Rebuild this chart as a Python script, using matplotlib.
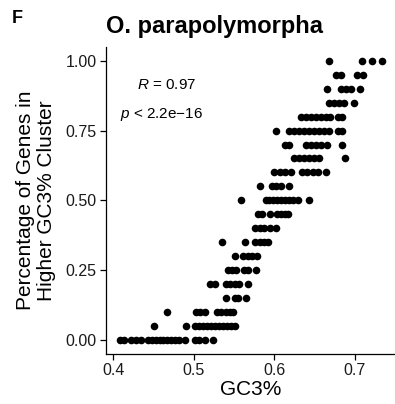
import matplotlib.pyplot as plt
import numpy as np

plt.rcParams['font.family'] = ['Liberation Sans', 'DejaVu Sans']
plt.rcParams['mathtext.fontset'] = 'custom'
plt.rcParams['mathtext.rm'] = 'Liberation Sans'
plt.rcParams['mathtext.it'] = 'Liberation Sans:italic'

# GC3% values of each point, grouped by the y level (share of genes in higher GC3% cluster)
levels = [0.00, 0.05, 0.10, 0.15, 0.20, 0.25, 0.30, 0.35, 0.40, 0.45, 0.50,
          0.55, 0.60, 0.65, 0.70, 0.75, 0.80, 0.85, 0.90, 0.95, 1.00]
gc3_by_level = [
    [0.408, 0.413, 0.422, 0.428, 0.434, 0.443, 0.448, 0.453, 0.458, 0.462,
     0.467, 0.472, 0.477, 0.482, 0.489, 0.502, 0.507, 0.514, 0.524],
    [0.451, 0.491, 0.502, 0.507, 0.512, 0.517, 0.521, 0.526, 0.531, 0.536,
     0.541, 0.546, 0.551],
    [0.467, 0.503, 0.508, 0.514, 0.529, 0.534, 0.540, 0.545, 0.549],
    [0.540, 0.551, 0.555, 0.565],
    [0.520, 0.526, 0.540, 0.545, 0.551, 0.557, 0.568],
    [0.543, 0.548, 0.553, 0.563, 0.568, 0.578],
    [0.551, 0.561, 0.567, 0.573, 0.579],
    [0.535, 0.564, 0.576, 0.582, 0.588, 0.593],
    [0.576, 0.582, 0.588, 0.595, 0.603],
    [0.580, 0.585, 0.595, 0.604, 0.609, 0.613, 0.617],
    [0.559, 0.590, 0.594, 0.599, 0.604, 0.609, 0.614, 0.619, 0.624, 0.630, 0.643],
    [0.583, 0.597, 0.603, 0.609, 0.619],
    [0.600, 0.607, 0.613, 0.621, 0.635, 0.641, 0.648, 0.654, 0.664],
    [0.625, 0.631, 0.637, 0.644, 0.650, 0.656, 0.688],
    [0.613, 0.619, 0.640, 0.646, 0.652, 0.658, 0.666, 0.684],
    [0.602, 0.619, 0.625, 0.631, 0.637, 0.644, 0.650, 0.656, 0.662, 0.668, 0.680, 0.685],
    [0.633, 0.640, 0.646, 0.652, 0.658, 0.664, 0.670, 0.679, 0.685],
    [0.668, 0.674, 0.681, 0.687, 0.699],
    [0.666, 0.683, 0.689, 0.695, 0.707],
    [0.677, 0.683, 0.703, 0.711],
    [0.668, 0.709, 0.722, 0.734],
]

x_ticks = [0.4, 0.5, 0.6, 0.7]
y_ticks = [0.00, 0.25, 0.50, 0.75, 1.00]

gc3 = []
pct = []
for lvl, xs in zip(levels, gc3_by_level):
    gc3 += xs
    pct += [lvl] * len(xs)
gc3 = np.array(gc3)
pct = np.array(pct)

fig = plt.figure(figsize=(3.95, 4.04), dpi=100)
ax = fig.add_axes([0.2696, 0.125, 0.7304, 0.7587])

ax.scatter(gc3, pct, s=30, color='black', linewidths=0, zorder=3)

# ggplot style 5% expansion
xr = gc3.max() - gc3.min()
ax.set_xlim(gc3.min() - 0.05 * xr, gc3.max() + 0.05 * xr)
ax.set_ylim(-0.05, 1.05)

ax.set_xticks(x_ticks)
ax.set_xticklabels(['0.4', '0.5', '0.6', '0.7'])
ax.set_yticks(y_ticks)
ax.set_yticklabels(['%.2f' % v for v in y_ticks])
ax.tick_params(labelsize=11.5, length=4, width=0.9, color='black', labelcolor='#1a1a1a', pad=3)

for side in ['top', 'right']:
    ax.spines[side].set_visible(False)
for side in ['left', 'bottom']:
    ax.spines[side].set_linewidth(0.9)

ax.set_xlabel('GC3%', fontsize=15, labelpad=1)
ax.set_ylabel('Percentage of Genes in\nHigher GC3% Cluster', fontsize=15, labelpad=7,
              linespacing=1.1)
ax.set_title('O. parapolymorpha', fontsize=17, fontweight='bold', loc='left', pad=10)

ax.text(0.430, 0.914, r'$\it{R}$ = 0.97', fontsize=11, ha='left', va='center')
ax.text(0.409, 0.808, r'$\it{p}$ < 2.2e' + '\u2212' + '16', fontsize=11, ha='left', va='center')

fig.text(0.03, 0.955, 'F', fontsize=13, fontweight='bold', ha='left', va='center')

plt.savefig('out.png', dpi=100)
